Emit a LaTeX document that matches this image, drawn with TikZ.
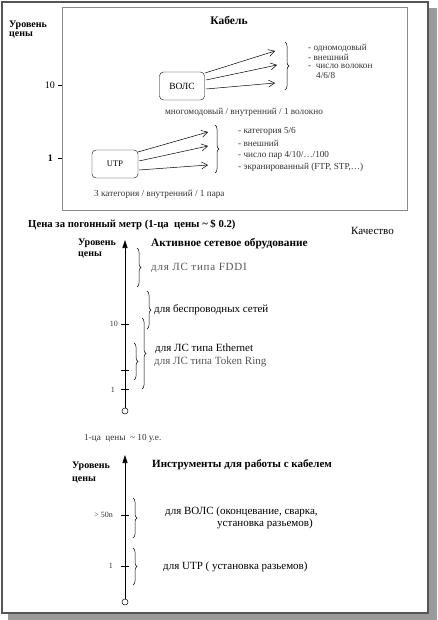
\documentclass[tikz,border=0pt]{standalone}
\usepackage{fontspec}
\setmainfont{Liberation Serif}
\newfontfamily\spacedserif[LetterSpace=7]{Liberation Serif}
\usetikzlibrary{arrows.meta,decorations.pathreplacing}
\definecolor{frameC}{HTML}{555555}
\definecolor{shadowC}{HTML}{9A9A9A}
\definecolor{boxC}{HTML}{8A8A8A}
\definecolor{greytext}{HTML}{555555}
\definecolor{smalltext}{HTML}{333333}
\tikzset{
  lbl/.style={inner sep=0pt, anchor=west, font=\fontsize{11}{12}\selectfont},
  bl/.style={lbl, font=\bfseries\fontsize{10}{11}\selectfont},
  sm/.style={lbl, text=smalltext, font=\fontsize{9.2}{10}\selectfont},
  tiny/.style={lbl, text=smalltext, font=\fontsize{8}{9}\selectfont},
  gr/.style={lbl, text=greytext},
  arr/.style={-{Straight Barb[length=6pt,width=7pt]}, line width=0.5pt},
  brc/.style={decorate, decoration={brace, amplitude=4pt}, line width=0.5pt},
  axisline/.style={line width=0.6pt, -{Triangle[length=8pt,width=5pt]}},
  tickline/.style={line width=0.5pt},
  cbox/.style={draw, rounded corners=4pt, minimum width=45pt, minimum height=28pt, inner sep=0pt},
  endc/.style={circle, draw, fill=white, minimum size=6pt, inner sep=0pt, line width=0.5pt}
}
\begin{document}
\begin{tikzpicture}[x=1pt,y=-1pt]
\useasboundingbox (0,0) rectangle (437,620);
% frame with shadow
\fill[shadowC] (8,8) rectangle (437,620);
\draw[frameC, line width=1.6pt, fill=white] (2,2) rectangle (428,613);

% ---------- top: cable box ----------
\draw[boxC, line width=0.6pt] (62,7) rectangle (407,210);
\node[bl] (yr1) at (9,25) {Уровень};
\node[bl] (ts1) at (9,35) {цены};
\node[bl, anchor=center, font=\bfseries\fontsize{11.5}{12}\selectfont] (kab) at (229,20) {Кабель};
\node[lbl, anchor=east, font=\fontsize{10}{11}\selectfont] (t10) at (55,85) {10};
\draw[tickline] (58,85) -- (62,85);

\node[cbox, font=\fontsize{9.5}{10}\selectfont] (volc) at (182,86) {ВОЛС};
\coordinate (vs1) at (205,73);
\coordinate (vs2) at (206,80);
\coordinate (vs3) at (206,89);
\coordinate (va1) at (275,51);
\coordinate (va2) at (277,65);
\coordinate (va3) at (275,83);
\draw[arr] (vs1) -- (va1);
\draw[arr] (vs2) -- (va2);
\draw[arr] (vs3) -- (va3);
\coordinate (vb1) at (285,42);
\coordinate (vb2) at (285,90);
\draw[brc] (vb1) -- (vb2);
\node[sm] (v1) at (308,48) {- одномодовый};
\node[sm] (v2) at (308,57) {- внешний};
\node[sm] (v3) at (308,66) {-~ число волокон};
\node[sm] (v4) at (316,75) {4/6/8};
\node[sm, anchor=center] (vm) at (244,112) {многомодовый / внутренний / 1 волокно};

\node[bl, anchor=east] (t1) at (53,158) {1};
\draw[tickline] (58,158) -- (62,158);
\node[cbox, minimum width=46pt, font=\fontsize{8.5}{9}\selectfont] (utp) at (115,164) {UTP};
\coordinate (us1) at (138,152);
\coordinate (us2) at (139,161);
\coordinate (us3) at (139,170);
\coordinate (ua1) at (208,132);
\coordinate (ua2) at (208,146);
\coordinate (ua3) at (208,165);
\draw[arr] (us1) -- (ua1);
\draw[arr] (us2) -- (ua2);
\draw[arr] (us3) -- (ua3);
\coordinate (ub1) at (215,125);
\coordinate (ub2) at (215,173);
\draw[brc] (ub1) -- (ub2);
\node[sm] (u1) at (238,131) {- категория 5/6};
\node[sm] (u2) at (238,143) {- внешний};
\node[sm] (u3) at (238,155) {- число пар 4/10/…/100};
\node[sm] (u4) at (238,167) {- экранированный (FTP, STP,…)};
\node[sm] (um) at (94,194) {3 категория / внутренний / 1 пара};

% ---------- middle: active equipment ----------
\node[bl, font=\bfseries\fontsize{10.7}{11}\selectfont] (price) at (28,225) {Цена за погонный метр (1-ца~ цены \textasciitilde\ \$ 0.2)};
\node[lbl] (qual) at (351,231) {Качество};
\node[endc] (c1) at (125,411) {};
\coordinate (a1) at (125,240);
\draw[axisline] (c1) -- (a1);
\node[bl] (yr2) at (78,243) {Уровень};
\node[bl] (ts2) at (78,255) {цены};
\node[bl, font=\bfseries\fontsize{11.3}{12}\selectfont] (act) at (151,244) {Активное сетевое обрудование};
\draw[brc] (137,248) -- (137,287);
\node[gr, font=\spacedserif\fontsize{11}{12}\selectfont] (fddi) at (151,268) {для ЛС типа FDDI};
\draw[brc] (147,291) -- (147,329);
\node[lbl] (wls) at (154,310) {для беспроводных сетей};
\draw[tickline] (121,324) -- (129,324);
\node[tiny, anchor=east] (m10) at (118,324) {10};
\draw[brc] (142,318) -- (142,389);
\draw[brc] (134,343) -- (134,380);
\draw[tickline] (121,370) -- (129,370);
\draw[tickline] (121,389) -- (129,389);
\node[tiny, anchor=east] (m1) at (115,390) {1};
\node[lbl] (eth) at (155,349) {для ЛС типа Ethernet};
\node[gr] (tr) at (154,362) {для ЛС типа Token Ring};

\node[sm] (unit) at (84,438) {1-ца~ цены~ \textasciitilde\ 10 у.е.};

% ---------- bottom: tools ----------
\node[endc] (c2) at (125,602) {};
\coordinate (a2) at (125,455);
\draw[axisline] (c2) -- (a2);
\node[bl] (yr3) at (72,466) {Уровень};
\node[bl] (ts3) at (72,480) {цены};
\node[bl, font=\bfseries\fontsize{11}{12}\selectfont] (tools) at (152,465) {Инструменты для работы с кабелем};
\draw[brc] (133,498) -- (133,538);
\draw[tickline] (121,515) -- (129,515);
\node[tiny, anchor=east] (b50) at (113,515) {> 50n};
\node[lbl] (bv1) at (165,512) {для ВОЛС (оконцевание, сварка,};
\node[lbl] (bv2) at (217,524) {установка разьемов)};
\draw[brc] (133,548) -- (133,585);
\draw[tickline] (121,566) -- (129,566);
\node[tiny, anchor=east] (b1) at (113,566) {1};
\node[lbl] (butp) at (163,567) {для UTP ( установка разьемов)};
\end{tikzpicture}
\end{document}
